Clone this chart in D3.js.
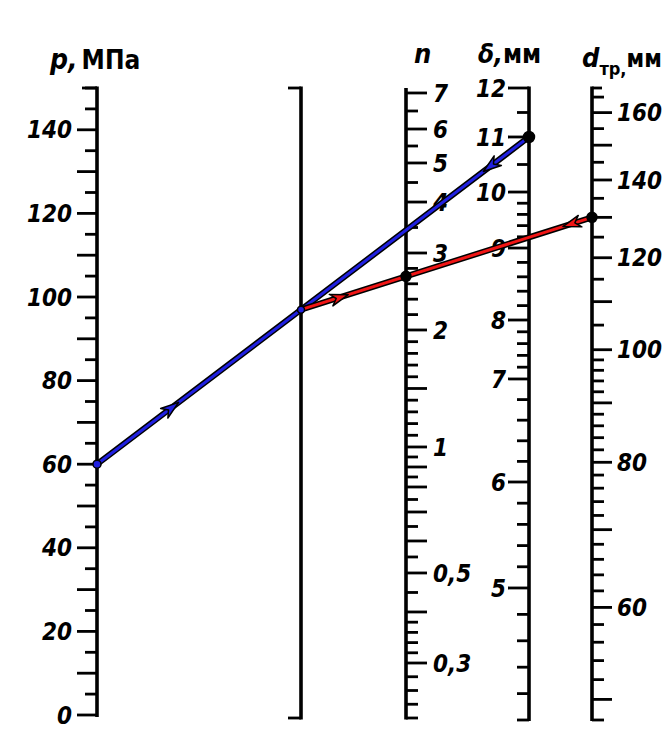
<!DOCTYPE html>
<html><head><meta charset="utf-8">
<script src="https://cdn.jsdelivr.net/npm/d3@7"></script>
<style>
body{margin:0;background:#fff}
svg{display:block}
text{font-family:"Liberation Sans Narrow","DejaVu Sans Condensed","Liberation Sans",sans-serif;fill:#000}
</style></head><body><svg id="c" width="667" height="747"></svg>
<script>
// ---------- data ----------
const pTicks = [0,5,10,15,20,25,30,35,40,45,50,55,60,65,70,75,80,85,90,95,100,105,110,115,120,125,130,135,140,145,150];
const pLabels = [0,20,40,60,80,100,120,140];

const nTicks = [0.22,0.24,0.26,0.28,0.3,0.32,0.34,0.36,0.38,0.4,0.45,0.5,0.55,0.6,0.65,0.7,0.75,0.8,0.85,0.9,0.95,1,
  1.1,1.2,1.3,1.4,1.5,1.6,1.7,1.8,1.9,2,2.2,2.4,2.6,2.8,3,3.5,4,4.5,5,5.5,6,6.5,7];
const nLong = [0.3,0.4,0.5,0.6,0.7,0.8,0.9,1,1.5,2,3,4,5,6,7];
const nLabels = [0.3,0.5,1,2,3,4,5,6,7];
const nLabelText = ["0,3","0,5","1","2","3","4","5","6","7"];

const deltaTicks = [4,4.2,4.4,4.6,4.8,5,5.2,5.4,5.6,5.8,6,6.2,6.4,6.6,6.8,7,7.2,7.4,7.6,7.8,8,8.2,8.4,8.6,8.8,9,
  9.2,9.4,9.6,9.8,10,10.5,11,11.5,12];
const deltaLabels = [5,6,7,8,9,10,11,12];

const dTicks = [48,50,52,54,56,58,60,62,64,66,68,70,72,74,76,78,80,82,84,86,88,90,92,94,96,98,100,
  105,110,115,120,125,130,135,140,145,150,155,160,165];
const dLabels = [60,80,100,120,140,160];

// worked example
const exP = 60;       // p, MPa
const exDelta = 11;   // δ, mm
const exD = 130;      // d_тр, mm

// ---------- layout ----------
const svg = d3.select("#c");
const yTop = 88, yBot = 718;
const xP = 97, xMid = 301, xN = 406, xDelta = 529, xD = 592;

const yP = d3.scaleLinear().domain([0,150]).range([715, yTop]);
// n scale: nonlinear nomogram graduation (calibration knots as fractions of axis height)
const nKnots = [0.22,0.3,0.4,0.5,0.6,0.7,0.8,1,2,3,4,5,6,7];
const nFrac  = [1.0,0.9127,0.8317,0.7698,0.7190,0.6730,0.6333,0.5698,0.3841,0.2619,0.1810,0.1190,0.0651,0.0079];
const yN = d3.scaleLinear().domain(nKnots).range(nFrac.map(f => yTop + f*(yBot-yTop)));
const dKnots = [4,5,6,7,8,9,10,11,12];
const dFrac  = [1.0,0.7911,0.6234,0.4604,0.3671,0.2532,0.1646,0.0775,0.0];
const yDelta = d3.scaleLinear().domain(dKnots).range(dFrac.map(f => yTop + f*(720-yTop)));
const yD = d3.scaleLog().domain([48,168]).range([720, yTop]);

const g = svg.append("g");
function axisLine(x, y1, y2){
  g.append("line").attr("x1",x).attr("x2",x).attr("y1",y1).attr("y2",y2)
   .attr("stroke","#000").attr("stroke-width",3.6);
}
function ticks(x, scale, vals, isLong, dir, longLen, shortLen){
  g.selectAll(null).data(vals).enter().append("line")
   .attr("x1", x).attr("x2", d => x + dir*(isLong(d)?longLen:shortLen))
   .attr("y1", d => scale(d)).attr("y2", d => scale(d))
   .attr("stroke","#000").attr("stroke-width",2.8);
}
const near = (a,b) => Math.abs(a-b) < 1e-6;
const LBL = {size: 24, weight: "bold"};

// p axis
axisLine(xP, yTop-1.5, 717);
ticks(xP, yP, pTicks, d => d%10===0 && d!==150, -1, 20, 12);
g.append("line").attr("x1",xP).attr("x2",xP-15).attr("y1",yP(150)).attr("y2",yP(150)).attr("stroke","#000").attr("stroke-width",2.8);
g.selectAll(null).data(pLabels).enter().append("text")
 .attr("x", 72).attr("y", d => yP(d)).attr("dy","0.36em")
 .attr("text-anchor","end").attr("font-size",LBL.size).attr("font-weight",LBL.weight).attr("font-style","italic")
 .text(d => d);

// middle reference axis
axisLine(xMid, yTop-1.5, yBot+1.5);
[yTop, yBot].forEach(y => g.append("line").attr("x1",xMid).attr("x2",xMid-13).attr("y1",y).attr("y2",y)
  .attr("stroke","#000").attr("stroke-width",2.8));

// n axis
axisLine(xN, yTop, yBot+1.5);
ticks(xN, yN, nTicks, d => nLong.some(v => near(v,d)), 1, 21, 12);
g.selectAll(null).data(nLabels).enter().append("text")
 .attr("x", 433).attr("y", d => yN(d)).attr("dy","0.36em")
 .attr("font-size",LBL.size).attr("font-weight",LBL.weight).attr("font-style","italic")
 .text((d,i) => nLabelText[i]);

// delta axis
axisLine(xDelta, yTop-1.5, 721);
ticks(xDelta, yDelta, deltaTicks, d => Number.isInteger(d) && d!==4, -1, 21, 12);
g.selectAll(null).data(deltaLabels).enter().append("text")
 .attr("x", 506).attr("y", d => yDelta(d)).attr("dy","0.36em")
 .attr("text-anchor","end").attr("font-size",LBL.size).attr("font-weight",LBL.weight).attr("font-style","italic")
 .text(d => d);

// d axis
axisLine(xD, yTop-1.5, 721);
ticks(xD, yD, dTicks, d => d%10===0, 1, 20, 12);
g.append("line").attr("x1",xD).attr("x2",xD+10).attr("y1",yTop).attr("y2",yTop).attr("stroke","#000").attr("stroke-width",2.8);
g.selectAll(null).data(dLabels).enter().append("text")
 .attr("x", 617).attr("y", d => yD(d)).attr("dy","0.36em")
 .attr("font-size",LBL.size).attr("font-weight",LBL.weight).attr("font-style","italic")
 .text(d => d);

// titles
const t1 = svg.append("text").attr("x",50).attr("y",69).attr("font-size",28);
t1.append("tspan").attr("font-style","italic").attr("font-weight","bold").text("p,");
t1.append("tspan").attr("dx",4).attr("font-weight","bold").attr("font-size",26).text("МПа");
svg.append("text").attr("x",414).attr("y",63).attr("font-size",27).attr("font-style","italic").attr("font-weight","bold").text("n");
const t3 = svg.append("text").attr("x",478).attr("y",63).attr("font-size",26).attr("font-weight","bold");
t3.append("tspan").attr("font-style","italic").text("δ,");
t3.append("tspan").text("мм");
const t4 = svg.append("text").attr("x",582).attr("y",67).attr("font-size",27).attr("font-weight","bold");
t4.append("tspan").attr("font-style","italic").text("d");
t4.append("tspan").attr("font-size",18).attr("dy",8).text("тр,");
t4.append("tspan").attr("font-size",24).attr("dy",-8).text("мм");

// ---------- key lines ----------
const P = [xP, yP(exP)];
const DL = [xDelta, yDelta(exDelta)];
const R = [xMid, P[1] + (DL[1]-P[1])*(xMid-P[0])/(DL[0]-P[0])];
const DD = [xD, yD(exD)];
const Nn = [xN, DD[1] + (R[1]-DD[1])*(xN-DD[0])/(R[0]-DD[0])];

function keyLine(a, b, color){
  svg.append("line").attr("x1",a[0]).attr("y1",a[1]).attr("x2",b[0]).attr("y2",b[1])
   .attr("stroke","#000").attr("stroke-width",6).attr("stroke-linecap","round");
  svg.append("line").attr("x1",a[0]).attr("y1",a[1]).attr("x2",b[0]).attr("y2",b[1])
   .attr("stroke",color).attr("stroke-width",3).attr("stroke-linecap","round");
}
function arrow(a, b, t, color){
  const x = a[0] + (b[0]-a[0])*t, y = a[1] + (b[1]-a[1])*t;
  const ang = Math.atan2(b[1]-a[1], b[0]-a[0]);
  const L = 18, W = 6;
  const c = Math.cos(ang), s = Math.sin(ang);
  const p1 = [x, y];
  const p2 = [x - L*c - W*s, y - L*s + W*c];
  const p3 = [x - L*c*0.7, y - L*s*0.7];
  const p4 = [x - L*c + W*s, y - L*s - W*c];
  svg.append("path").attr("d", d3.line()([p1,p2,p3,p4]) + "Z")
   .attr("fill", color).attr("stroke","#000").attr("stroke-width",1.5).attr("stroke-linejoin","round");
}
const blue = "#2020e0", red = "#f01515";
keyLine(P, DL, blue);
keyLine(DD, R, red);
arrow(P, R, 0.40, blue);
arrow(DL, R, 0.20, blue);
arrow(DD, R, 0.10, red);
arrow(R, Nn, 0.45, red);

function dot(pt, r, color){
  svg.append("circle").attr("cx",pt[0]).attr("cy",pt[1]).attr("r",r)
   .attr("fill",color).attr("stroke","#000").attr("stroke-width",1.5);
}
dot(P, 4, blue);
dot(DL, 5.5, "#000");
dot(DD, 5, "#000");
dot(Nn, 5, "#000");
dot(R, 3.5, blue);
</script></body></html>
